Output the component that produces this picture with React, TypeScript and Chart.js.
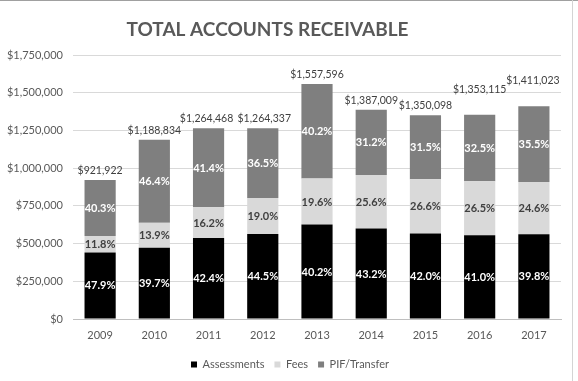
import React, { useEffect, useRef } from "react";
import { Chart, registerables } from "chart.js";

Chart.register(...registerables);

const years = ["2009", "2010", "2011", "2012", "2013", "2014", "2015", "2016", "2017"];
const assessments = [441601, 471967, 536134, 562630, 626154, 599188, 567041, 554777, 561587];
const fees = [108787, 165248, 204844, 240224, 305289, 355074, 359126, 358575, 347112];
const pifTransfer = [371534, 551619, 523490, 461483, 626153, 432747, 423931, 439763, 502324];

const assessmentsPct = ["47.9%", "39.7%", "42.4%", "44.5%", "40.2%", "43.2%", "42.0%", "41.0%", "39.8%"];
const feesPct = ["11.8%", "13.9%", "16.2%", "19.0%", "19.6%", "25.6%", "26.6%", "26.5%", "24.6%"];
const pifPct = ["40.3%", "46.4%", "41.4%", "36.5%", "40.2%", "31.2%", "31.5%", "32.5%", "35.5%"];
const totalLabels = [
  "$921,922", "$1,188,834", "$1,264,468", "$1,264,337", "$1,557,596",
  "$1,387,009", "$1,350,098", "$1,353,115", "$1,411,023",
];

const yMax = 1750000;
const yStep = 250000;

const FONT = "Lato, 'Open Sans', sans-serif";
const TEXT = "#595959";
// total labels that Excel nudged to avoid collisions
const totalLabelLift = [0, 0, 0, 0, 0, 0, 0, 1, 1];
const totalLabelNudgeX = [0, 0, -2, 1.5, 0, 0, 0, 0, -1];

const pctLabels = [assessmentsPct, feesPct, pifPct];
const pctColors = ["#ffffff", "#404040", "#ffffff"];

const labelPlugin = {
  id: "customLabels",
  afterLayout(chart: any) {
    const lg = chart.legend;
    if (lg) {
      lg.left += 9.5;
      lg.right += 9.5;
    }
  },
  beforeDraw(chart: any) {
    const ctx = chart.ctx;
    ctx.save();
    ctx.fillStyle = "#ffffff";
    ctx.fillRect(0, 0, chart.width, chart.height);
    ctx.restore();
  },
  afterDatasetsDraw(chart: any) {
    const ctx = chart.ctx;
    ctx.save();
    ctx.textAlign = "center";
    ctx.textBaseline = "middle";
    ctx.font = `bold 11px ${FONT}`;
    chart.data.datasets.forEach((_ds: any, di: number) => {
      const meta = chart.getDatasetMeta(di);
      meta.data.forEach((bar: any, i: number) => {
        const { x, y, base } = bar.getProps(["x", "y", "base"], true);
        ctx.fillStyle = pctColors[di];
        ctx.fillText(pctLabels[di][i], x, (y + base) / 2 + 0.5);
      });
    });
    const topMeta = chart.getDatasetMeta(chart.data.datasets.length - 1);
    ctx.font = `10.5px ${FONT}`;
    ctx.fillStyle = "#404040";
    topMeta.data.forEach((bar: any, i: number) => {
      const { x, y } = bar.getProps(["x", "y"], true);
      ctx.fillText(totalLabels[i], x + totalLabelNudgeX[i], y - 9.5 - totalLabelLift[i] * 16);
    });
    ctx.restore();
  },
  afterDraw(chart: any) {
    const ctx = chart.ctx;
    ctx.save();
    ctx.font = `bold 19px ${FONT}`;
    ctx.fillStyle = TEXT;
    ctx.textAlign = "center";
    ctx.textBaseline = "alphabetic";
    ctx.fillText("TOTAL ACCOUNTS RECEIVABLE", 267.5, 36);
    ctx.strokeStyle = "#a0a0a0";
    ctx.lineWidth = 1;
    ctx.beginPath();
    ctx.moveTo(0, 0.5);
    ctx.lineTo(chart.width, 0.5);
    ctx.stroke();
    ctx.strokeStyle = "#d4d4d4";
    ctx.beginPath();
    ctx.moveTo(572.5, 0);
    ctx.lineTo(572.5, chart.height);
    ctx.stroke();
    ctx.restore();
  },
};

export default function App() {
  const ref = useRef<HTMLCanvasElement | null>(null);
  useEffect(() => {
    document.body.style.margin = "0";
    const canvas = ref.current;
    if (!canvas) return;
    const chart = new Chart(canvas, {
      type: "bar",
      data: {
        labels: years,
        datasets: [
          { label: "Assessments", data: assessments, backgroundColor: "#000000" },
          { label: "Fees", data: fees, backgroundColor: "#d9d9d9" },
          { label: "PIF/Transfer", data: pifTransfer, backgroundColor: "#7f7f7f" },
        ],
      },
      options: {
        responsive: false,
        animation: false,
        devicePixelRatio: 1,
        datasets: { bar: { categoryPercentage: 1, barPercentage: 0.575 } },
        layout: { padding: { top: 55, right: 17, left: 0, bottom: 1 } },
        plugins: {
          title: { display: false },
          tooltip: { enabled: false },
          legend: {
            display: true,
            position: "bottom",
            labels: {
              boxWidth: 6,
              boxHeight: 6,
              padding: 10,
              color: TEXT,
              font: { family: FONT, size: 11 },
            },
          },
        },
        scales: {
          x: {
            stacked: true,
            grid: { display: false, drawTicks: false },
            border: { display: true, color: "#bfbfbf", width: 1 },
            ticks: { color: TEXT, font: { family: FONT, size: 11 }, padding: 10 },
            afterFit(scale: any) {
              scale.height = 30;
            },
          },
          y: {
            stacked: true,
            min: 0,
            max: yMax,
            grid: { color: "#d9d9d9", drawTicks: false, lineWidth: 1 },
            border: { display: false },
            ticks: {
              stepSize: yStep,
              color: TEXT,
              font: { family: FONT, size: 11 },
              padding: 10,
              callback: (v: any) => "$" + Number(v).toLocaleString("en-US"),
            },
            afterFit(scale: any) {
              scale.width = 73;
            },
          },
        },
      },
      plugins: [labelPlugin],
    });
    return () => chart.destroy();
  }, []);
  return (
    <div style={{ width: 578, height: 381 }}>
      <canvas ref={ref} width={578} height={381} style={{ display: "block" }} />
    </div>
  );
}
